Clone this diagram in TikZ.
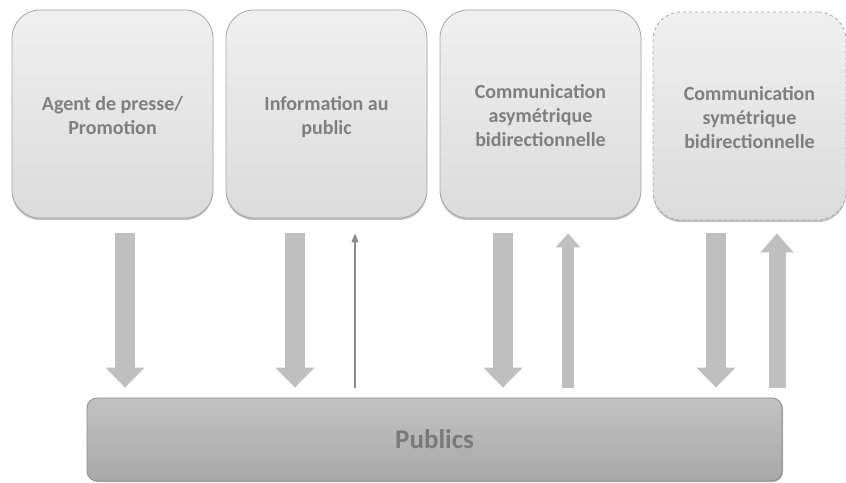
\documentclass[tikz,border=0pt]{standalone}
\usepackage{fontspec}
\setmainfont{Carlito}
\usetikzlibrary{arrows.meta,shadows,calc}
\definecolor{txtgray}{HTML}{7F7F7F}
\definecolor{arrgray}{HTML}{BFBFBF}
\definecolor{boxborder}{HTML}{A6A6A6}
\newcommand\mbtext[1]{\raisebox{-4pt}[\height][\depth]{\begin{tabular}{@{}c@{}}#1\end{tabular}}}
\tikzset{
  x=1pt,y=1pt,
  modelbox/.style={draw=boxborder, line width=0.8pt, rounded corners=28pt,
    top color=white!94!black, bottom color=white!86!black,
    minimum width=201pt, minimum height=208pt, inner sep=0pt,
    text=txtgray, font=\fontsize{20}{24}\selectfont\bfseries,
    drop shadow={shadow xshift=0pt, shadow yshift=-2pt, opacity=0.25, fill=black}},
  pubbar/.style={draw=white!55!black, line width=0.8pt, rounded corners=10pt,
    top color=white!76!black, bottom color=white!66!black,
    minimum width=695pt, minimum height=83pt, inner sep=0pt,
    text=white!48!black, font=\fontsize{27}{30}\selectfont\bfseries,
    drop shadow={shadow xshift=1pt, shadow yshift=-1pt, opacity=0.3, fill=black}},
  bigdown/.style={draw=arrgray, line width=20pt,
    -{Triangle[width=38pt,length=20pt]}, shorten <=15pt, shorten >=10pt},
  midup/.style={draw=arrgray, line width=12pt,
    -{Triangle[width=24pt,length=14pt]}, shorten <=10pt, shorten >=15pt},
  bigup/.style={draw=arrgray, line width=17pt,
    -{Triangle[width=32pt,length=19pt]}, shorten <=10pt, shorten >=13pt},
  thinup/.style={draw=white!55!black, line width=1.5pt,
    -{Triangle[width=7pt,length=9pt]}, shorten <=10pt, shorten >=15pt},
}
\begin{document}
\begin{tikzpicture}
\useasboundingbox (0,0) rectangle (846,482);
\node[modelbox] (b1) at (112.5,368) {\mbtext{Agent de presse/\\Promotion}};
\node[modelbox] (b2) at (326.5,368) {\mbtext{Information au\\public}};
\node[modelbox] (b3) at (540.5,368) {\mbtext{Communication\\asymétrique\\bidirectionnelle}};
\node[modelbox, dashed, minimum width=193pt] (b4) at (749.5,366) {\mbtext{Communication\\symétrique\\bidirectionnelle}};
\node[pubbar] (pub) at (434.5,42.5) {Publics};
% arrows
\draw[bigdown] ([xshift=12.5pt]b1.south) -- ([xshift=12.5pt]b1.south |- pub.north);
\draw[bigdown] ([xshift=-31.5pt]b2.south) -- ([xshift=-31.5pt]b2.south |- pub.north);
\draw[thinup] ([xshift=28.5pt]b2.south |- pub.north) -- ([xshift=28.5pt]b2.south);
\draw[bigdown] ([xshift=-37.5pt]b3.south) -- ([xshift=-37.5pt]b3.south |- pub.north);
\draw[midup] ([xshift=27.5pt]b3.south |- pub.north) -- ([xshift=27.5pt]b3.south);
\draw[bigdown, shorten <=13pt] ([xshift=-33.5pt]b4.south) -- ([xshift=-33.5pt]b4.south |- pub.north);
\draw[bigup] ([xshift=27.5pt]b4.south |- pub.north) -- ([xshift=27.5pt]b4.south);
\end{tikzpicture}
\end{document}
